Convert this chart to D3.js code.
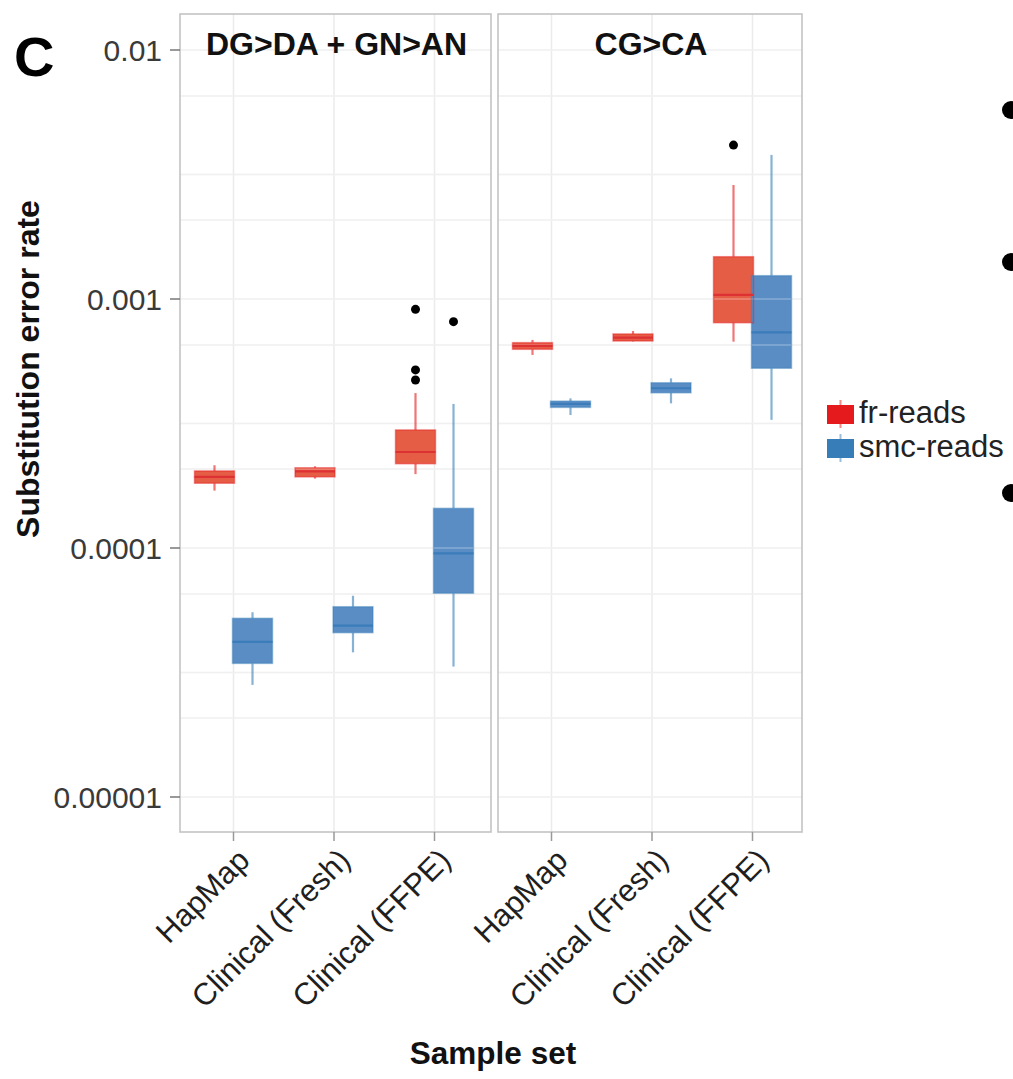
<!DOCTYPE html>
<html><head><meta charset="utf-8">
<script src="https://cdn.jsdelivr.net/npm/d3@7"></script>
<style>body{margin:0;background:#fff} text{font-family:"Liberation Sans",Arial,Helvetica,sans-serif}</style>
</head><body><svg id="c" width="1013" height="1079"></svg>
<script>
// ---------- data ----------
const panels = ["DG>DA + GN>AN", "CG>CA"];
const categories = ["HapMap", "Clinical (Fresh)", "Clinical (FFPE)"];
const series = ["fr-reads", "smc-reads"];
const yTicks = [0.01, 0.001, 0.0001, 0.00001];
const yTickLabels = ["0.01", "0.001", "0.0001", "0.00001"];
const minorGrid = [0.003162, 0.0003162, 0.00003162];
const extraGrid = [0.006535, 0.002077, 0.0006535, 0.0002077, 0.00006535, 0.00002077];
// box stats: [lower whisker, q1, median, q3, upper whisker]
const dgFrStats  = [[1.70e-4, 1.82e-4, 1.93e-4, 2.04e-4, 2.15e-4], [1.90e-4, 1.93e-4, 2.03e-4, 2.10e-4, 2.13e-4], [1.98e-4, 2.18e-4, 2.43e-4, 2.98e-4, 4.19e-4]];
const dgSmcStats = [[2.82e-5, 3.44e-5, 4.20e-5, 5.22e-5, 5.52e-5], [3.81e-5, 4.57e-5, 4.88e-5, 5.81e-5, 6.43e-5], [3.34e-5, 6.58e-5, 9.52e-5, 1.443e-4, 3.79e-4]];
const cgFrStats  = [[5.96e-4, 6.28e-4, 6.48e-4, 6.68e-4, 6.85e-4], [6.75e-4, 6.78e-4, 7.00e-4, 7.24e-4, 7.44e-4], [6.74e-4, 8.03e-4, 1.038e-3, 1.479e-3, 2.87e-3]];
const cgSmcStats = [[3.42e-4, 3.67e-4, 3.79e-4, 3.89e-4, 3.99e-4], [3.81e-4, 4.20e-4, 4.38e-4, 4.61e-4, 4.80e-4], [3.27e-4, 5.27e-4, 7.35e-4, 1.241e-3, 3.79e-3]];
const dgFrOut  = [[], [], [9.09e-4, 5.19e-4, 4.73e-4]];
const dgSmcOut = [[], [], [8.11e-4]];
const cgFrOut  = [[], [], [4.15e-3]];
const cgSmcOut = [[], [], []];

// ---------- layout ----------
const svg = d3.select("#c");
const panelTop = 14, panelBottom = 832;
const panelBounds = [[180, 491], [498, 802]];
const catCenters = [334, 652], catStep = 100.5;
const y = d3.scaleLog().domain([1e-2, 1e-5]).range([50, 797]);
const dodge = d3.scalePoint().domain(series).range([-19, 19]);
const boxW = 40;
const lineColor = {"fr-reads": "#E41A1C", "smc-reads": "#377EB8"};
const fillColor = {"fr-reads": "#E65D46", "smc-reads": "#5A8DC4"};
const medColor = {"fr-reads": "#DE3133", "smc-reads": "#3A7DBA"};
const statsByPanel = [[dgFrStats, dgSmcStats], [cgFrStats, cgSmcStats]];
const outByPanel = [[dgFrOut, dgSmcOut], [cgFrOut, cgSmcOut]];
const allGrid = yTicks.concat(minorGrid, extraGrid);

const defs = svg.append("defs");

panels.forEach((pname, pi) => {
  const [x0, x1] = panelBounds[pi];
  const x = d3.scalePoint().domain(categories).range([catCenters[pi] - catStep, catCenters[pi] + catStep]);
  defs.append("clipPath").attr("id", "clip" + pi).append("rect")
    .attr("x", x0).attr("y", panelTop).attr("width", x1 - x0).attr("height", panelBottom - panelTop);
  const g = svg.append("g");
  g.append("rect").attr("x", x0).attr("y", panelTop).attr("width", x1 - x0).attr("height", panelBottom - panelTop).attr("fill", "#fff");
  const cg = g.append("g").attr("clip-path", `url(#clip${pi})`);
  // grid
  cg.selectAll(".hg").data(allGrid).join("line")
    .attr("x1", x0).attr("x2", x1).attr("y1", d => y(d)).attr("y2", d => y(d))
    .attr("stroke", "#EBEBEB").attr("stroke-width", 1.5);
  cg.selectAll(".vg").data(categories).join("line")
    .attr("x1", d => x(d)).attr("x2", d => x(d)).attr("y1", panelTop).attr("y2", panelBottom)
    .attr("stroke", "#EBEBEB").attr("stroke-width", 1.5);

  const boxes = [];
  series.forEach((s, si) => {
    categories.forEach((c, ci) => {
      const st = statsByPanel[pi][si][ci];
      boxes.push({s, c, cx: x(c) + dodge(s), st, out: outByPanel[pi][si][ci]});
    });
  });
  // box fills
  cg.selectAll(".bf").data(boxes).join("rect")
    .attr("x", d => d.cx - boxW / 2).attr("width", boxW)
    .attr("y", d => y(d.st[3])).attr("height", d => y(d.st[1]) - y(d.st[3]))
    .attr("fill", d => fillColor[d.s]);
  // gridlines showing through the translucent boxes
  cg.selectAll(".hg2").data(allGrid).join("line")
    .attr("x1", x0).attr("x2", x1).attr("y1", d => y(d)).attr("y2", d => y(d))
    .attr("stroke", "#fff").attr("stroke-opacity", 0.28).attr("stroke-width", 1.5);
  // whiskers
  cg.selectAll(".wu").data(boxes).join("line")
    .attr("x1", d => d.cx).attr("x2", d => d.cx).attr("y1", d => y(d.st[3])).attr("y2", d => y(d.st[4]))
    .attr("stroke", d => lineColor[d.s]).attr("stroke-opacity", 0.6).attr("stroke-width", 2.2);
  cg.selectAll(".wl").data(boxes).join("line")
    .attr("x1", d => d.cx).attr("x2", d => d.cx).attr("y1", d => y(d.st[1])).attr("y2", d => y(d.st[0]))
    .attr("stroke", d => lineColor[d.s]).attr("stroke-opacity", 0.6).attr("stroke-width", 2.2);
  // box outlines
  cg.selectAll(".bo").data(boxes).join("rect")
    .attr("x", d => d.cx - boxW / 2).attr("width", boxW)
    .attr("y", d => y(d.st[3])).attr("height", d => y(d.st[1]) - y(d.st[3]))
    .attr("fill", "none").attr("stroke", d => lineColor[d.s]).attr("stroke-opacity", 0.45).attr("stroke-width", 1.5);
  // medians
  cg.selectAll(".md").data(boxes).join("line")
    .attr("x1", d => d.cx - boxW / 2).attr("x2", d => d.cx + boxW / 2)
    .attr("y1", d => y(d.st[2])).attr("y2", d => y(d.st[2]))
    .attr("stroke", d => medColor[d.s]).attr("stroke-width", 2.2);
  // outliers
  const outs = boxes.flatMap(b => b.out.map(v => ({cx: b.cx, v})));
  cg.selectAll(".ol").data(outs).join("circle")
    .attr("cx", d => d.cx).attr("cy", d => y(d.v)).attr("r", 4.5).attr("fill", "#000");
  // border
  g.append("rect").attr("x", x0).attr("y", panelTop).attr("width", x1 - x0).attr("height", panelBottom - panelTop)
    .attr("fill", "none").attr("stroke", "#C4C4C4").attr("stroke-width", 1.6);
  // strip title
  g.append("text").attr("x", (x0 + x1) / 2 + 1).attr("y", 55).attr("text-anchor", "middle")
    .attr("font-size", 32).attr("font-weight", "bold").attr("fill", "#111").text(pname);
  // x ticks and labels
  g.selectAll(".xt").data(categories).join("line")
    .attr("x1", d => x(d)).attr("x2", d => x(d)).attr("y1", panelBottom).attr("y2", panelBottom + 9)
    .attr("stroke", "#999").attr("stroke-width", 1.5);
  g.selectAll(".xl").data(categories).join("text")
    .attr("transform", d => `translate(${x(d) + 18},${panelBottom + 30}) rotate(-45)`)
    .attr("text-anchor", "end").attr("font-size", 31).attr("fill", "#1f1f1f").text(d => d);
});

// y axis
const yAxis = svg.append("g");
yAxis.selectAll("line").data(yTicks).join("line")
  .attr("x1", 170).attr("x2", 180).attr("y1", d => y(d)).attr("y2", d => y(d))
  .attr("stroke", "#777").attr("stroke-width", 1.5);
yAxis.selectAll("text").data(yTicks).join("text")
  .attr("x", 162).attr("y", d => y(d)).attr("dy", "0.36em").attr("text-anchor", "end")
  .attr("font-size", 30).attr("fill", "#3a3a3a").text((d, i) => yTickLabels[i]);

// titles
svg.append("text").attr("transform", "translate(39,369) rotate(-90)").attr("text-anchor", "middle")
  .attr("font-size", 32).attr("font-weight", "bold").attr("fill", "#111").text("Substitution error rate");
svg.append("text").attr("x", 493).attr("y", 1064).attr("text-anchor", "middle")
  .attr("font-size", 31.5).attr("font-weight", "bold").attr("fill", "#111").text("Sample set");
svg.append("text").attr("x", 14).attr("y", 76).attr("font-size", 56).attr("font-weight", "bold").attr("fill", "#000").text("C");

// legend
const leg = svg.append("g");
series.forEach((s, i) => {
  const ky = 405 + i * 34;
  leg.append("line").attr("x1", 840.5).attr("x2", 840.5).attr("y1", ky - 5).attr("y2", ky + 23)
    .attr("stroke", lineColor[s]).attr("stroke-opacity", 0.5).attr("stroke-width", 2);
  leg.append("rect").attr("x", 827).attr("y", ky).attr("width", 27).attr("height", 19).attr("fill", lineColor[s]);
  leg.append("text").attr("x", 859).attr("y", ky + 18).attr("font-size", 31).attr("fill", "#222").text(s);
});

// bullets of the neighbouring panel (cropped at right edge)
const bulletY = [110, 262, 493];
svg.selectAll(".bul").data(bulletY).join("circle")
  .attr("cx", 1011).attr("cy", d => d).attr("r", 9).attr("fill", "#000");
</script></body></html>
